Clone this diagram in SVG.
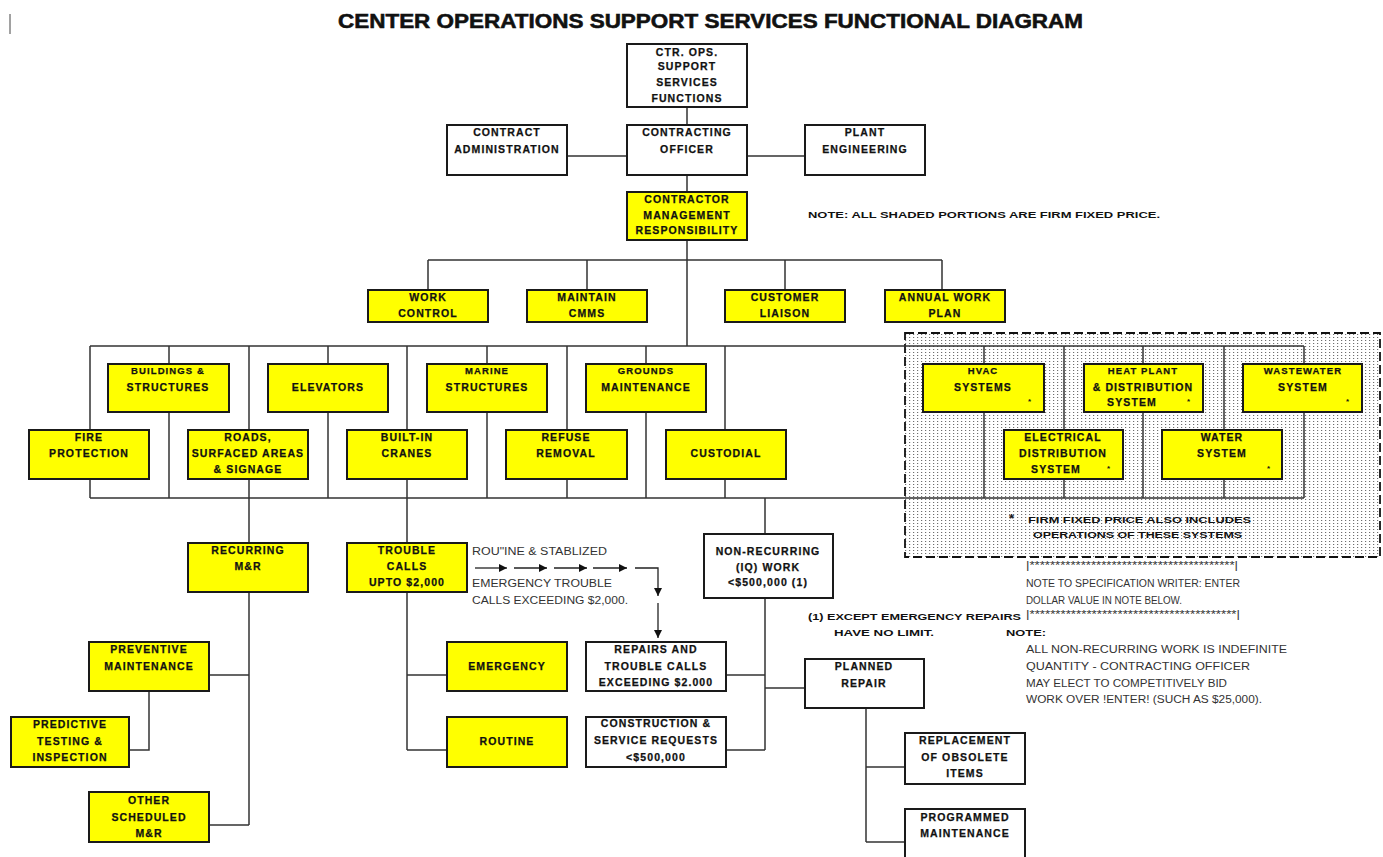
<svg xmlns="http://www.w3.org/2000/svg" width="1383" height="857" viewBox="0 0 1383 857">
<defs>
<pattern id="dots" width="4" height="3" patternUnits="userSpaceOnUse">
<rect x="1" y="1" width="1.2" height="1" fill="#6e6e6e"/>
</pattern>
<marker id="ah" viewBox="0 0 10 10" refX="10" refY="5" markerWidth="9" markerHeight="8" markerUnits="userSpaceOnUse" orient="auto">
<path d="M0,0 L10,5 L0,10 z" fill="#111"/>
</marker>
<style>
.box{stroke:#1a1a1a;stroke-width:2}
.y{fill:#ffff00}
.w{fill:#ffffff}
.t{font-family:"Liberation Sans",Arial,sans-serif;font-weight:bold;font-size:10.5px;letter-spacing:1.1px;text-anchor:middle;fill:#111;stroke:#111;stroke-width:0.25}
.sm{font-size:9.5px}
.ln{stroke:#333;stroke-width:1.5;fill:none}
.fl{stroke:#222;stroke-width:1.3;fill:none;marker-end:url(#ah)}
.n{font-family:"Liberation Sans",Arial,sans-serif;font-size:10px;fill:#333}
.nb{font-family:"Liberation Sans",Arial,sans-serif;font-size:9.5px;font-weight:bold;fill:#111}
.ast{font-family:"Liberation Sans",Arial,sans-serif;font-size:8px;font-weight:bold;fill:#111}
.big{font-size:13px}
</style>
</defs>
<rect width="1383" height="857" fill="#ffffff"/>
<line x1="10" y1="14" x2="10" y2="34" stroke="#444" stroke-width="1"/>
<text x="338" y="28" textLength="745" lengthAdjust="spacingAndGlyphs" font-family="Liberation Sans, Arial, sans-serif" font-weight="bold" font-size="21" fill="#111" stroke="#111" stroke-width="0.6">CENTER OPERATIONS SUPPORT SERVICES FUNCTIONAL DIAGRAM</text>

<g id="shaded-region">
<rect x="905" y="333" width="475" height="224" fill="url(#dots)" stroke="#111" stroke-width="1.8" stroke-dasharray="9 4"/>
</g>

<g id="connectors">
<path class="ln" d="M687,107V125M687,175V192M687,240V346M567,156H627M747,156H805"/>
<path class="ln" d="M428,260H942M428,260V290M587,260V290M785,260V290M942,260V290"/>
<path class="ln" d="M90,346H1304M90,498H1304"/>
<path class="ln" d="M90,346V498M169,346V498M249,346V498M328,346V498M407,346V498M487,346V498M567,346V498M646,346V498M725,346V498"/>
<path class="ln" d="M984,346V498M1064,346V498M1143,346V498M1224,346V498M1304,346V498"/>
<path class="ln" d="M249,498V543M249,592V825M209,675H249M209,825H249M149,691V750H129"/>
<path class="ln" d="M407,498V543M407,592V750M407,675H447M407,750H447"/>
<path class="ln" d="M765,498V534M765,598V750M726,675H765M726,750H765M765,688H805"/>
<path class="ln" d="M866,708V842M866,767H905M866,842H905"/>
<path class="fl" d="M475,568H507"/>
<path class="fl" d="M514,568H547"/>
<path class="fl" d="M554,568H587"/>
<path class="fl" d="M593,568H627"/>
<path class="fl" d="M635,568H658V596"/>
<path class="fl" d="M658,603V638"/>
</g>

<g id="ctr-ops"><rect class="box w" x="627" y="44" width="120" height="63"/><text class="t" x="687" y="55.5">CTR. OPS.</text><text class="t" x="687" y="69.5">SUPPORT</text><text class="t" x="687" y="85.5">SERVICES</text><text class="t" x="687" y="101.5">FUNCTIONS</text></g>
<g id="contract-administration"><rect class="box w" x="447" y="125" width="120" height="50"/><text class="t" x="507" y="135.5">CONTRACT</text><text class="t" x="507" y="152.5">ADMINISTRATION</text></g>
<g id="contracting-officer"><rect class="box w" x="627" y="125" width="120" height="50"/><text class="t" x="687" y="135.5">CONTRACTING</text><text class="t" x="687" y="152.5">OFFICER</text></g>
<g id="plant-engineering"><rect class="box w" x="805" y="125" width="120" height="50"/><text class="t" x="865" y="135.5">PLANT</text><text class="t" x="865" y="152.5">ENGINEERING</text></g>
<g id="contractor-management"><rect class="box y" x="627" y="192" width="120" height="48"/><text class="t" x="687" y="202.5">CONTRACTOR</text><text class="t" x="687" y="218.5">MANAGEMENT</text><text class="t" x="687" y="233.5">RESPONSIBILITY</text></g>
<text class="nb" x="808" y="218" textLength="352" lengthAdjust="spacingAndGlyphs">NOTE:  ALL SHADED PORTIONS ARE FIRM FIXED PRICE.</text>

<g id="work-control"><rect class="box y" x="368" y="290" width="120" height="32"/><text class="t" x="428" y="300.5">WORK</text><text class="t" x="428" y="316.5">CONTROL</text></g>
<g id="maintain-cmms"><rect class="box y" x="527" y="290" width="120" height="32"/><text class="t" x="587" y="300.5">MAINTAIN</text><text class="t" x="587" y="316.5">CMMS</text></g>
<g id="customer-liaison"><rect class="box y" x="725" y="290" width="120" height="32"/><text class="t" x="785" y="300.5">CUSTOMER</text><text class="t" x="785" y="316.5">LIAISON</text></g>
<g id="annual-work-plan"><rect class="box y" x="885" y="290" width="120" height="32"/><text class="t" x="945" y="300.5">ANNUAL WORK</text><text class="t" x="945" y="316.5">PLAN</text></g>

<g id="buildings-structures"><rect class="box y" x="108" y="364" width="121" height="48"/><text class="t sm" x="168" y="374">BUILDINGS &amp;</text><text class="t" x="168" y="390.5">STRUCTURES</text></g>
<g id="elevators"><rect class="box y" x="268" y="364" width="120" height="48"/><text class="t" x="328" y="390.5">ELEVATORS</text></g>
<g id="marine-structures"><rect class="box y" x="427" y="364" width="120" height="48"/><text class="t sm" x="487" y="374">MARINE</text><text class="t" x="487" y="390.5">STRUCTURES</text></g>
<g id="grounds-maintenance"><rect class="box y" x="586" y="364" width="120" height="48"/><text class="t sm" x="646" y="374">GROUNDS</text><text class="t" x="646" y="390.5">MAINTENANCE</text></g>
<g id="fire-protection"><rect class="box y" x="29" y="430" width="120" height="49"/><text class="t" x="89" y="440.5">FIRE</text><text class="t" x="89" y="456.5">PROTECTION</text></g>
<g id="roads"><rect class="box y" x="188" y="430" width="120" height="49"/><text class="t" x="248" y="440.5">ROADS,</text><text class="t" x="248" y="456.5">SURFACED AREAS</text><text class="t" x="248" y="472.5">&amp; SIGNAGE</text></g>
<g id="built-in-cranes"><rect class="box y" x="347" y="430" width="120" height="49"/><text class="t" x="407" y="440.5">BUILT-IN</text><text class="t" x="407" y="456.5">CRANES</text></g>
<g id="refuse-removal"><rect class="box y" x="506" y="430" width="121" height="49"/><text class="t" x="566" y="440.5">REFUSE</text><text class="t" x="566" y="456.5">REMOVAL</text></g>
<g id="custodial"><rect class="box y" x="666" y="430" width="120" height="49"/><text class="t" x="726" y="456.5">CUSTODIAL</text></g>

<g id="hvac"><rect class="box y" x="923" y="364" width="121" height="48"/><text class="t sm" x="983" y="374">HVAC</text><text class="t" x="983" y="390.5">SYSTEMS</text><text class="ast" x="1028" y="404">*</text></g>
<g id="heat-plant"><rect class="box y" x="1084" y="364" width="119" height="48"/><text class="t sm" x="1143" y="374">HEAT PLANT</text><text class="t" x="1143" y="390.5">&amp; DISTRIBUTION</text><text class="t" x="1132" y="406">SYSTEM</text><text class="ast" x="1187" y="404">*</text></g>
<g id="wastewater"><rect class="box y" x="1243" y="364" width="119" height="48"/><text class="t sm" x="1303" y="374">WASTEWATER</text><text class="t" x="1303" y="390.5">SYSTEM</text><text class="ast" x="1346" y="404">*</text></g>
<g id="electrical"><rect class="box y" x="1004" y="430" width="119" height="49"/><text class="t" x="1063" y="440.5">ELECTRICAL</text><text class="t" x="1063" y="456.5">DISTRIBUTION</text><text class="t" x="1056" y="472.5">SYSTEM</text><text class="ast" x="1107" y="471">*</text></g>
<g id="water"><rect class="box y" x="1162" y="430" width="120" height="49"/><text class="t" x="1222" y="440.5">WATER</text><text class="t" x="1222" y="456.5">SYSTEM</text><text class="ast" x="1267" y="471">*</text></g>
<text class="ast big" x="1009" y="523">*</text>
<text class="nb" x="1028" y="523" textLength="223" lengthAdjust="spacingAndGlyphs">FIRM FIXED PRICE ALSO INCLUDES</text>
<text class="nb" x="1033" y="537.5" textLength="209" lengthAdjust="spacingAndGlyphs">OPERATIONS OF THESE SYSTEMS</text>

<g id="recurring-mr"><rect class="box y" x="188" y="543" width="120" height="49"/><text class="t" x="248" y="553.5">RECURRING</text><text class="t" x="248" y="569.5">M&amp;R</text></g>
<g id="trouble-calls"><rect class="box y" x="347" y="543" width="120" height="49"/><text class="t" x="407" y="553.5">TROUBLE</text><text class="t" x="407" y="569.5">CALLS</text><text class="t" x="407" y="585.5">UPTO $2,000</text></g>
<g id="preventive-maintenance"><rect class="box y" x="89" y="642" width="120" height="49"/><text class="t" x="149" y="652.5">PREVENTIVE</text><text class="t" x="149" y="669.5">MAINTENANCE</text></g>
<g id="predictive-testing"><rect class="box y" x="11" y="717" width="118" height="50"/><text class="t" x="70" y="727.5">PREDICTIVE</text><text class="t" x="70" y="744.5">TESTING &amp;</text><text class="t" x="70" y="760.5">INSPECTION</text></g>
<g id="other-scheduled-mr"><rect class="box y" x="89" y="792" width="120" height="50"/><text class="t" x="149" y="803.5">OTHER</text><text class="t" x="149" y="820.5">SCHEDULED</text><text class="t" x="149" y="836.5">M&amp;R</text></g>
<g id="emergency"><rect class="box y" x="447" y="642" width="120" height="49"/><text class="t" x="507" y="669.5">EMERGENCY</text></g>
<g id="routine"><rect class="box y" x="447" y="717" width="120" height="50"/><text class="t" x="507" y="744.5">ROUTINE</text></g>

<text class="n" x="472" y="555" textLength="135" lengthAdjust="spacingAndGlyphs">ROU"INE &amp; STABLIZED</text>
<text class="n" x="472" y="587" textLength="140" lengthAdjust="spacingAndGlyphs">EMERGENCY TROUBLE</text>
<text class="n" x="472" y="604" textLength="156" lengthAdjust="spacingAndGlyphs">CALLS EXCEEDING $2,000.</text>

<g id="repairs-trouble-calls"><rect class="box w" x="586" y="642" width="140" height="49"/><text class="t" x="656" y="652.5">REPAIRS AND</text><text class="t" x="656" y="669.5">TROUBLE CALLS</text><text class="t" x="656" y="685.5">EXCEEDING $2.000</text></g>
<g id="construction-service"><rect class="box w" x="586" y="717" width="140" height="50"/><text class="t" x="656" y="726.5">CONSTRUCTION &amp;</text><text class="t" x="656" y="743.5">SERVICE REQUESTS</text><text class="t" x="656" y="760.5">&lt;$500,000</text></g>
<g id="non-recurring"><rect class="box w" x="704" y="534" width="129" height="64"/><text class="t" x="768" y="554.5">NON-RECURRING</text><text class="t" x="768" y="570.5">(IQ) WORK</text><text class="t" x="768" y="585.5">&lt;$500,000 (1)</text></g>
<g id="planned-repair"><rect class="box w" x="805" y="659" width="119" height="49"/><text class="t" x="864" y="669.5">PLANNED</text><text class="t" x="864" y="686.5">REPAIR</text></g>
<g id="replacement"><rect class="box w" x="905" y="733" width="120" height="51"/><text class="t" x="965" y="743.5">REPLACEMENT</text><text class="t" x="965" y="760.5">OF OBSOLETE</text><text class="t" x="965" y="776.5">ITEMS</text></g>
<g id="programmed-maintenance"><rect class="box w" x="905" y="809" width="120" height="50"/><text class="t" x="965" y="820.5">PROGRAMMED</text><text class="t" x="965" y="836.5">MAINTENANCE</text></g>

<g id="notes">
<text class="n" x="1026" y="569" textLength="212" lengthAdjust="spacingAndGlyphs">|****************************************|</text>
<text class="n" x="1026" y="586.5" textLength="214" lengthAdjust="spacingAndGlyphs">NOTE TO SPECIFICATION WRITER: ENTER</text>
<text class="n" x="1026" y="603.5" textLength="156" lengthAdjust="spacingAndGlyphs">DOLLAR VALUE IN NOTE BELOW.</text>
<text class="n" x="1026" y="618" textLength="214" lengthAdjust="spacingAndGlyphs">|****************************************|</text>
<text class="nb" x="808" y="619.5" textLength="213" lengthAdjust="spacingAndGlyphs">(1) EXCEPT EMERGENCY REPAIRS</text>
<text class="nb" x="834" y="636" textLength="100" lengthAdjust="spacingAndGlyphs">HAVE NO LIMIT.</text>
<text class="nb" x="1006" y="636" textLength="40" lengthAdjust="spacingAndGlyphs">NOTE:</text>
<text class="n" x="1026" y="652.5" textLength="261" lengthAdjust="spacingAndGlyphs">ALL NON-RECURRING WORK IS INDEFINITE</text>
<text class="n" x="1026" y="669.5" textLength="224" lengthAdjust="spacingAndGlyphs">QUANTITY - CONTRACTING OFFICER</text>
<text class="n" x="1026" y="686.5" textLength="201" lengthAdjust="spacingAndGlyphs">MAY ELECT TO COMPETITIVELY BID</text>
<text class="n" x="1026" y="702.5" textLength="236" lengthAdjust="spacingAndGlyphs">WORK OVER !ENTER! (SUCH AS $25,000).</text>
</g>
</svg>
